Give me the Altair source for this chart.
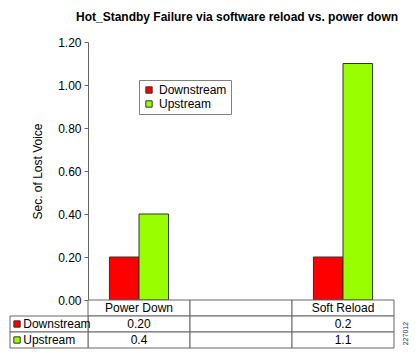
import altair as alt
import pandas as pd

# ---- data ----
title_text = "Hot_Standby Failure via software reload vs. power down"
y_title = "Sec. of Lost Voice"
columns = ["Power Down", " ", "Soft Reload"]      # middle column is blank
bar_columns = ["Power Down", "Soft Reload"]
series = ["Downstream", "Upstream"]
colors = ["#ff0000", "#99ff00"]
downstream_vals = [0.20, 0.2]
upstream_vals = [0.4, 1.1]
downstream_labels = ["0.20", "0.2"]
upstream_labels = ["0.4", "1.1"]
y_ticks = [0.0, 0.2, 0.4, 0.6, 0.8, 1.0, 1.2]
figure_id = "227012"

FONT = "Liberation Sans"
W, H = 306, 258
LABEL_W = 78
ROW_H = 16

# ---- tables built from the arrays ----
bar_rows = []
for i, c in enumerate(bar_columns):
    bar_rows.append({"col": c, "series": series[0], "value": downstream_vals[i]})
    bar_rows.append({"col": c, "series": series[1], "value": upstream_vals[i]})
bar_df = pd.DataFrame(bar_rows)

cell_rows = []
for c in columns:
    cell_rows.append({"col": c, "row": "header", "text": c.strip()})
for s, labs in zip(series, [downstream_labels, upstream_labels]):
    for c in columns:
        txt = labs[bar_columns.index(c)] if c in bar_columns else ""
        cell_rows.append({"col": c, "row": s, "text": txt})
cell_df = pd.DataFrame(cell_rows)

label_df = pd.DataFrame({"col": ["label"] * len(series), "row": series, "series": series})
id_df = pd.DataFrame({"col": [columns[-1]], "row": [series[-1]], "text": [figure_id]})

color_scale = alt.Scale(domain=series, range=colors)
row_domain = ["header"] + series

# ---- top: bar chart ----
bars = alt.Chart(bar_df).mark_bar(stroke="#333333", strokeWidth=1).encode(
    x=alt.X("col:N", scale=alt.Scale(domain=columns, paddingInner=0, paddingOuter=0), axis=None),
    xOffset=alt.XOffset("series:N", scale=alt.Scale(domain=series, paddingInner=0, paddingOuter=0.725)),
    y=alt.Y(
        "value:Q",
        scale=alt.Scale(domain=[0, 1.2], nice=False),
        axis=alt.Axis(
            values=y_ticks, format=".2f", title=y_title, grid=False,
            tickSize=4, tickColor="#666666", domainColor="#666666",
            labelFontSize=12, labelFont=FONT, labelColor="black", labelPadding=3,
            titleFontSize=12, titleFont=FONT, titleFontWeight="normal",
            titleColor="black", titlePadding=13,
        ),
    ),
    color=alt.Color(
        "series:N", scale=color_scale,
        legend=alt.Legend(
            title=None, orient="none", legendX=51, legendY=38,
            symbolType="square", symbolSize=40, symbolStrokeColor="#333333",
            symbolStrokeWidth=1, labelFontSize=12, labelFont=FONT, labelColor="black",
            strokeColor="#808080", fillColor="white", padding=4, rowPadding=2,
            labelOffset=4,
        ),
    ),
).properties(
    width=W, height=H,
    title=alt.TitleParams(
        text=title_text, fontSize=12, fontWeight="bold", font=FONT, color="black",
        anchor="middle", frame="group", offset=12, dx=-4,
    ),
)

# ---- bottom: data table ----
y_row = alt.Y("row:N", scale=alt.Scale(domain=row_domain, paddingInner=0, paddingOuter=0), axis=None)
data_scale = alt.Scale(domain=columns, paddingInner=0, paddingOuter=0)
label_scale = alt.Scale(domain=["label"], range=[-LABEL_W, 0], paddingInner=0, paddingOuter=0)

cells = alt.Chart(cell_df).mark_rect(fill="white", stroke="#666666", strokeWidth=1).encode(
    x=alt.X("col:N", scale=data_scale, axis=None), y=y_row
)
cell_text = alt.Chart(cell_df).mark_text(fontSize=12, font=FONT, color="black").encode(
    x=alt.X("col:N", scale=data_scale, axis=None), y=y_row, text="text:N"
)
id_text = alt.Chart(id_df).mark_text(
    fontSize=7, font=FONT, color="#333333", angle=270, dy=12, baseline="middle", align="center"
).encode(
    x=alt.X("col:N", scale=data_scale, axis=None, bandPosition=1),
    y=alt.Y("row:N", scale=alt.Scale(domain=row_domain, paddingInner=0, paddingOuter=0), axis=None, bandPosition=0.1),
    text="text:N",
)

label_cells = alt.Chart(label_df).mark_rect(fill="white", stroke="#666666", strokeWidth=1).encode(
    x=alt.X("col:N", scale=label_scale, axis=None), y=y_row
)
label_sq = alt.Chart(label_df).mark_square(size=40, opacity=1, stroke="#333333", strokeWidth=1).encode(
    x=alt.X("col:N", scale=label_scale, axis=None, bandPosition=0.09),
    y=y_row,
    color=alt.Color("series:N", scale=color_scale, legend=None),
)
label_text = alt.Chart(label_df).mark_text(fontSize=12, font=FONT, color="black", align="left").encode(
    x=alt.X("col:N", scale=label_scale, axis=None, bandPosition=0.17),
    y=y_row,
    text="series:N",
)

table = alt.layer(
    alt.layer(cells, cell_text, id_text),
    alt.layer(label_cells, label_sq, label_text),
).resolve_scale(x="independent").properties(width=W, height=ROW_H * len(row_domain))

chart = alt.vconcat(bars, table, spacing=0, bounds="flush").properties(
    padding={"left": 1, "top": 2, "right": 2, "bottom": 1}
).configure(font=FONT).configure_view(stroke="transparent")

chart.save("out.html", embed_options={"renderer": "svg", "actions": False})
